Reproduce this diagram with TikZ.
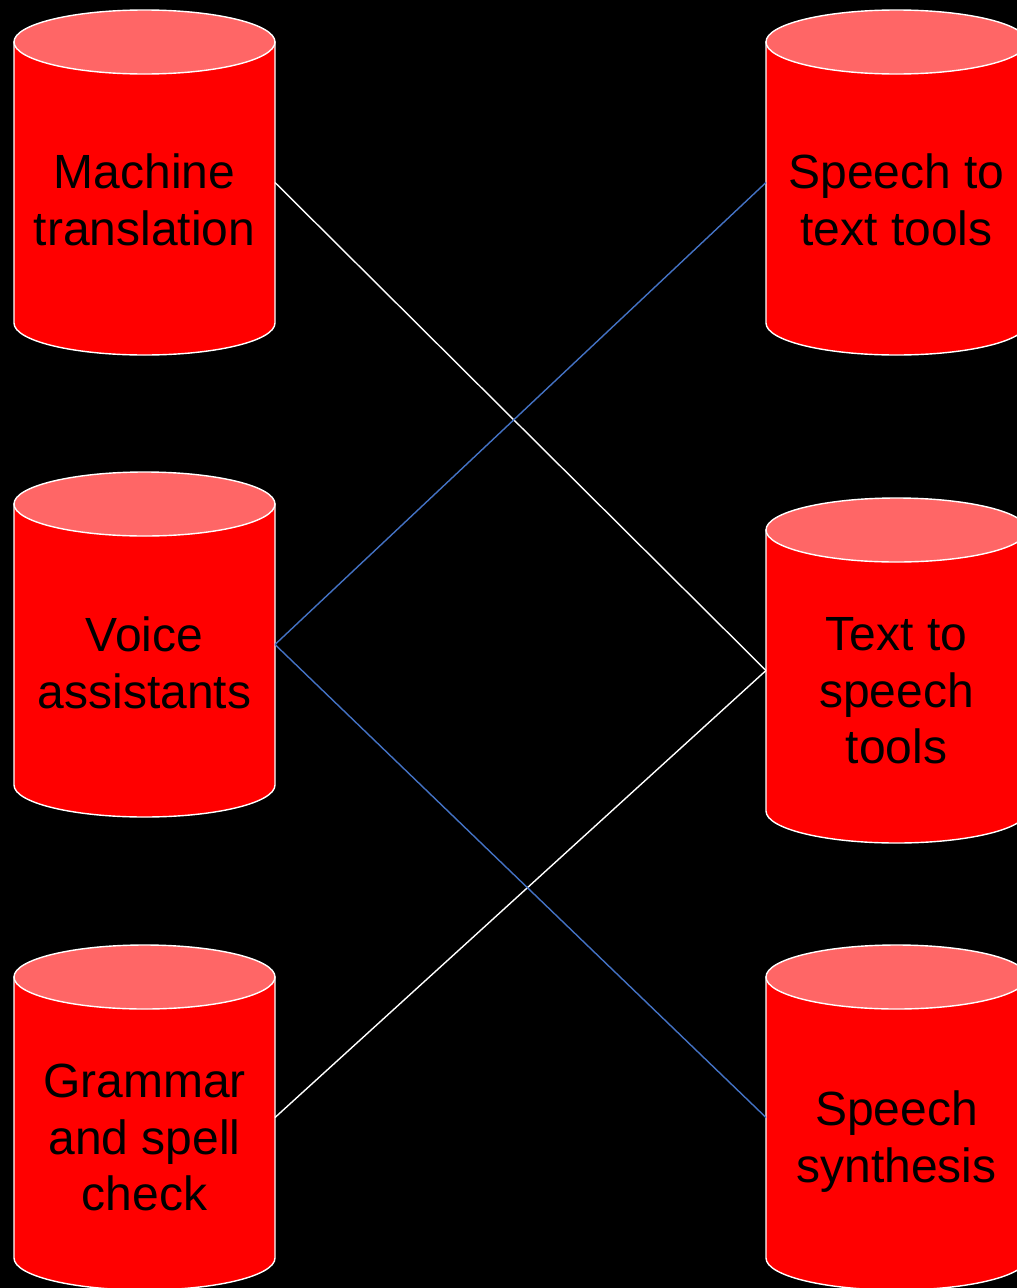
\documentclass[tikz,border=0pt]{standalone}
\usepackage{fontspec}
\setmainfont{Liberation Sans}
\definecolor{cylbody}{HTML}{FF0000}
\definecolor{cyltop}{HTML}{FF6666}
\definecolor{linkblue}{HTML}{4472C4}
\newcommand\cylstrut{\rule[-10.2pt]{0pt}{53.6pt}}
\begin{document}
\begin{tikzpicture}[x=1pt,y=-1pt,
  cylbox/.style={rectangle, minimum width=261pt, minimum height=345pt, inner sep=0pt, outer sep=0pt},
  cyltext/.style={align=center, text=black, inner sep=0pt, font=\fontsize{48}{56.5}\selectfont},
  whitelink/.style={draw=white, line width=1.4pt},
  bluelink/.style={draw=linkblue, line width=1.4pt},
  cylline/.style={draw=white, line width=1.4pt}]
\fill[black] (0,0) rectangle (1017,1288);
\useasboundingbox (0,0) rectangle (1017,1288);
\clip (0,0) rectangle (1017,1288);
% cylinder boxes
\node[cylbox] (mt)  at (144.5,182.5) {};
\node[cylbox] (va)  at (144.5,644.5) {};
\node[cylbox] (gs)  at (144.5,1117.5) {};
\node[cylbox] (stt) at (896.5,182.5) {};
\node[cylbox] (tts) at (896.5,670.5) {};
\node[cylbox] (ss)  at (896.5,1117.5) {};
% cylinder graphics
\foreach \n in {mt,va,gs,stt,tts,ss}{
  \path[fill=cylbody, cylline] ([yshift=-32pt]\n.north west) -- ([yshift=32pt]\n.south west)
    arc[start angle=180, end angle=360, x radius=130.5pt, y radius=32pt]
    -- ([yshift=-32pt]\n.north east) -- cycle;
  \path[fill=cyltop, cylline] ([yshift=-32pt]\n.north) ellipse[x radius=130.5pt, y radius=32pt];
}
% texts
\node[cyltext] (tmt)  at ([yshift=-18pt]mt.center)  {\cylstrut Machine\\\cylstrut translation};
\node[cyltext] (tva)  at ([yshift=-19pt]va.center)  {\cylstrut Voice\\\cylstrut assistants};
\node[cyltext] (tgs)  at ([yshift=-20pt]gs.center)  {\cylstrut Grammar\\\cylstrut and spell\\\cylstrut check};
\node[cyltext] (tstt) at ([yshift=-18pt]stt.center) {\cylstrut Speech to\\\cylstrut text tools};
\node[cyltext] (ttts) at ([yshift=-20pt]tts.center) {\cylstrut Text to\\\cylstrut speech\\\cylstrut tools};
\node[cyltext] (tss)  at ([yshift=-20pt]ss.center)  {\cylstrut Speech\\\cylstrut synthesis};
% connectors
\draw[whitelink] (mt.east) -- (tts.west);
\draw[whitelink] (gs.east) -- (tts.west);
\draw[bluelink] (va.east) -- (stt.west);
\draw[bluelink] (va.east) -- (ss.west);
\end{tikzpicture}
\end{document}
